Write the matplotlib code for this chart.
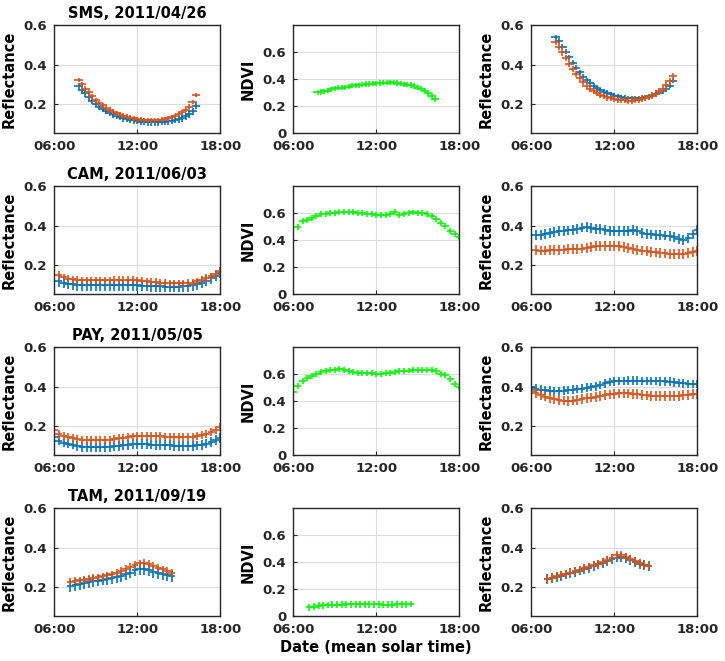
#!/usr/bin/env python3

import numpy as np
import matplotlib
matplotlib.use('Agg')
import matplotlib.pyplot as plt

# colours (matlab defaults)
BLUE = '#0072BD'
ORANGE = '#D95319'
GREEN = '#00FF00'

# sites, titles, first sample (hours) and sampling step (hours)
sites = ['SMS', 'CAM', 'PAY', 'TAM']
titles = ['SMS, 2011/04/26', 'CAM, 2011/06/03', 'PAY, 2011/05/05', 'TAM, 2011/09/19']
t_start = [7.75, 6 + 1 / 3, 6.0, 7 + 1 / 6]
t_step = [0.25, 1 / 3, 1 / 3, 1 / 3]
t_half = [0.3, 0.25, 0.25, 0.25]   # half width of integration window

# ---- SMS (15 min) ----
sms_b1 = [0.290, 0.272, 0.255, 0.235, 0.215, 0.200, 0.186, 0.175, 0.164, 0.155,
          0.147, 0.140, 0.134, 0.128, 0.124, 0.120, 0.116, 0.113, 0.110, 0.108,
          0.107, 0.106, 0.106, 0.107, 0.108, 0.110, 0.112, 0.115, 0.118, 0.122,
          0.128, 0.136, 0.146, 0.162, 0.190]
sms_o1 = [0.322, 0.300, 0.278, 0.258, 0.238, 0.220, 0.205, 0.192, 0.180, 0.170,
          0.160, 0.152, 0.145, 0.140, 0.135, 0.130, 0.126, 0.122, 0.119, 0.117,
          0.116, 0.116, 0.117, 0.118, 0.120, 0.123, 0.127, 0.132, 0.138, 0.146,
          0.156, 0.168, 0.185, 0.210, 0.245]
sms_ndvi = [0.304, 0.306, 0.310, 0.316, 0.326, 0.333, 0.338, 0.338, 0.340, 0.346,
            0.353, 0.356, 0.356, 0.360, 0.365, 0.365, 0.368, 0.370, 0.373, 0.375,
            0.375, 0.378, 0.375, 0.373, 0.368, 0.363, 0.360, 0.358, 0.350, 0.338,
            0.330, 0.316, 0.296, 0.276, 0.252]
sms_b3 = [0.540, 0.520, 0.492, 0.465, 0.438, 0.410, 0.385, 0.360, 0.338, 0.320,
          0.304, 0.291, 0.280, 0.270, 0.262, 0.255, 0.248, 0.242, 0.238, 0.234,
          0.231, 0.229, 0.228, 0.228, 0.229, 0.231, 0.234, 0.238, 0.243, 0.250,
          0.257, 0.265, 0.277, 0.292, 0.318]
sms_o3 = [0.515, 0.490, 0.462, 0.433, 0.405, 0.378, 0.352, 0.330, 0.310, 0.293,
          0.278, 0.266, 0.256, 0.247, 0.240, 0.233, 0.228, 0.224, 0.221, 0.219,
          0.218, 0.217, 0.217, 0.218, 0.220, 0.223, 0.228, 0.234, 0.242, 0.252,
          0.263, 0.277, 0.295, 0.318, 0.340]

# ---- CAM (20 min, 06:20 - 18:00) ----
cam_b1 = [0.116, 0.109, 0.104, 0.100, 0.097, 0.095, 0.095, 0.095, 0.095,
          0.095, 0.095, 0.096, 0.096, 0.096, 0.096, 0.096, 0.096, 0.095,
          0.094, 0.093, 0.092, 0.091, 0.090, 0.089, 0.089, 0.089, 0.089,
          0.090, 0.092, 0.096, 0.102, 0.110, 0.120, 0.132, 0.145, 0.160]
cam_o1 = [0.150, 0.136, 0.130, 0.126, 0.123, 0.122, 0.121, 0.121, 0.121,
          0.121, 0.122, 0.122, 0.123, 0.124, 0.124, 0.124, 0.123, 0.121,
          0.119, 0.117, 0.115, 0.113, 0.110, 0.108, 0.107, 0.107, 0.107,
          0.107, 0.108, 0.110, 0.116, 0.124, 0.133, 0.143, 0.152, 0.167]
cam_ndvi = [0.500, 0.540, 0.550, 0.567, 0.583, 0.592, 0.596, 0.600, 0.603,
            0.607, 0.613, 0.612, 0.608, 0.603, 0.600, 0.597, 0.593, 0.590,
            0.585, 0.588, 0.598, 0.608, 0.586, 0.595, 0.603, 0.606, 0.605,
            0.602, 0.593, 0.580, 0.557, 0.530, 0.505, 0.472, 0.445, 0.425]
cam_b3 = [0.350, 0.354, 0.357, 0.361, 0.368, 0.372, 0.373, 0.375, 0.377,
          0.382, 0.390, 0.393, 0.388, 0.383, 0.382, 0.378, 0.374, 0.372,
          0.372, 0.372, 0.373, 0.378, 0.374, 0.363, 0.359, 0.355, 0.353,
          0.351, 0.349, 0.347, 0.340, 0.331, 0.327, 0.335, 0.355, 0.378]
cam_o3 = [0.275, 0.273, 0.273, 0.274, 0.276, 0.277, 0.278, 0.279, 0.280,
          0.281, 0.283, 0.285, 0.290, 0.295, 0.297, 0.297, 0.297, 0.297,
          0.294, 0.289, 0.285, 0.281, 0.277, 0.273, 0.270, 0.266, 0.263,
          0.260, 0.258, 0.257, 0.256, 0.256, 0.257, 0.259, 0.265, 0.272]

# ---- PAY (20 min, 06:00 - 18:00) ----
pay_b1 = [0.143, 0.125, 0.115, 0.110, 0.105, 0.098, 0.093, 0.092, 0.091, 0.090,
          0.090, 0.091, 0.093, 0.096, 0.099, 0.102, 0.104, 0.106, 0.107, 0.107,
          0.106, 0.105, 0.104, 0.103, 0.102, 0.101, 0.099, 0.098, 0.098, 0.098,
          0.098, 0.100, 0.104, 0.110, 0.118, 0.127, 0.137]
pay_o1 = [0.180, 0.160, 0.148, 0.143, 0.138, 0.133, 0.130, 0.128, 0.127, 0.127,
          0.127, 0.128, 0.130, 0.133, 0.137, 0.140, 0.143, 0.146, 0.148, 0.149,
          0.150, 0.150, 0.149, 0.147, 0.145, 0.144, 0.143, 0.143, 0.143, 0.143,
          0.143, 0.147, 0.152, 0.157, 0.167, 0.180, 0.192]
pay_ndvi = [0.468, 0.515, 0.548, 0.571, 0.587, 0.602, 0.615, 0.623, 0.629, 0.632,
            0.636, 0.634, 0.627, 0.618, 0.610, 0.607, 0.611, 0.607, 0.600, 0.605,
            0.609, 0.612, 0.617, 0.621, 0.624, 0.628, 0.631, 0.632, 0.632, 0.632,
            0.630, 0.624, 0.605, 0.595, 0.565, 0.530, 0.505]
pay_b3 = [0.400, 0.390, 0.385, 0.381, 0.380, 0.378, 0.378, 0.380, 0.383, 0.385,
          0.388, 0.390, 0.394, 0.398, 0.402, 0.408, 0.416, 0.423, 0.427, 0.429,
          0.429, 0.430, 0.430, 0.430, 0.429, 0.429, 0.428, 0.428, 0.427, 0.426,
          0.425, 0.422, 0.419, 0.416, 0.414, 0.414, 0.414]
pay_o3 = [0.378, 0.366, 0.357, 0.349, 0.343, 0.337, 0.332, 0.329, 0.328, 0.329,
          0.332, 0.336, 0.340, 0.344, 0.348, 0.352, 0.356, 0.360, 0.363, 0.365,
          0.365, 0.365, 0.364, 0.361, 0.358, 0.355, 0.353, 0.351, 0.351, 0.351,
          0.351, 0.352, 0.354, 0.357, 0.359, 0.361, 0.363]

# ---- TAM (20 min, 07:10 - 14:30) ----
tam_b1 = [0.204, 0.209, 0.215, 0.220, 0.224, 0.228, 0.232, 0.237, 0.241, 0.246,
          0.252, 0.257, 0.264, 0.273, 0.284, 0.291, 0.290, 0.284, 0.276, 0.268,
          0.263, 0.258, 0.255]
tam_o1 = [0.226, 0.230, 0.233, 0.237, 0.241, 0.245, 0.249, 0.253, 0.258, 0.264,
          0.273, 0.281, 0.291, 0.302, 0.313, 0.320, 0.322, 0.317, 0.307, 0.297,
          0.289, 0.281, 0.272]
tam_ndvi = [0.066, 0.070, 0.078, 0.082, 0.084, 0.085, 0.087, 0.087, 0.088, 0.089,
            0.090, 0.090, 0.090, 0.090, 0.089, 0.088, 0.087, 0.087, 0.087, 0.088,
            0.089, 0.090, 0.091]
tam_b3 = [0.239, 0.244, 0.249, 0.255, 0.263, 0.270, 0.276, 0.283, 0.290, 0.297,
          0.306, 0.314, 0.322, 0.330, 0.341, 0.349, 0.352, 0.345, 0.336, 0.327,
          0.318, 0.310, 0.305]
tam_o3 = [0.242, 0.247, 0.254, 0.260, 0.267, 0.273, 0.280, 0.287, 0.294, 0.301,
          0.310, 0.318, 0.327, 0.335, 0.349, 0.360, 0.363, 0.353, 0.340, 0.330,
          0.322, 0.313, 0.305]

# uncertainty (half-width) per series: b1, o1, ndvi, b3, o3
unc = {
  'SMS': [0.018, 0.012, 0.020, 0.013, 0.016],
  'CAM': [0.028, 0.018, 0.022, 0.025, 0.025],
  'PAY': [0.025, 0.020, 0.022, 0.022, 0.025],
  'TAM': [0.030, 0.018, 0.025, 0.025, 0.020],
}
series = {
  'SMS': [sms_b1, sms_o1, sms_ndvi, sms_b3, sms_o3],
  'CAM': [cam_b1, cam_o1, cam_ndvi, cam_b3, cam_o3],
  'PAY': [pay_b1, pay_o1, pay_ndvi, pay_b3, pay_o3],
  'TAM': [tam_b1, tam_o1, tam_ndvi, tam_b3, tam_o3],
}

plt.rcParams['font.family'] = 'DejaVu Sans'
plt.rcParams['font.weight'] = 'bold'
plt.rcParams['axes.labelweight'] = 'bold'
plt.rcParams['axes.titleweight'] = 'bold'

W, H = 725, 661
fig = plt.figure(figsize=(W / 100, H / 100), dpi=100)

lefts = [54.3, 293.3, 531.3]
bottoms = [133.3, 294.3, 455.3, 616.3]
aw, ah = 166, 108


def style(ax, ndvi=False):
  ax.set_xlim(6, 18)
  ax.set_xticks([6, 12, 18])
  ax.set_xticklabels(['06:00', '12:00', '18:00'])
  if ndvi:
    ax.set_ylim(0, 0.8)
    ax.set_yticks([0, 0.2, 0.4, 0.6])
    ax.set_yticklabels(['0', '0.2', '0.4', '0.6'])
    ax.set_ylabel('NDVI', fontsize=10.5, labelpad=5)
  else:
    ax.set_ylim(0.05, 0.6)
    ax.set_yticks([0.2, 0.4, 0.6])
    ax.set_yticklabels(['0.2', '0.4', '0.6'])
    ax.set_ylabel('Reflectance', fontsize=10.5, labelpad=5)
  ax.grid(True, color='#dcdcdc', linewidth=0.8)
  ax.set_axisbelow(True)
  ax.tick_params(direction='in', length=3, width=0.8, labelsize=9.5,
                 colors='#262626', pad=5)
  for s in ax.spines.values():
    s.set_linewidth(1.0)
    s.set_color('#262626')


def bars(ax, t, y, err, xerr, color):
  ax.errorbar(t, y, xerr=xerr, yerr=err, fmt='none', ecolor=color,
              elinewidth=1.2, capsize=0)


for r, site in enumerate(sites):
  b1, o1, nd, b3, o3 = series[site]
  t = t_start[r] + t_step[r] * np.arange(len(b1))
  e = unc[site]
  xe = t_half[r]
  axs = []
  for c in range(3):
    ax = fig.add_axes([lefts[c] / W, 1 - bottoms[r] / H, aw / W, ah / H])
    axs.append(ax)

  bars(axs[0], t, b1, e[0], xe, BLUE)
  bars(axs[0], t, o1, e[1], xe, ORANGE)
  style(axs[0])
  axs[0].set_title(titles[r], fontsize=10.5, pad=5)

  bars(axs[1], t, nd, e[2], xe, GREEN)
  style(axs[1], ndvi=True)

  bars(axs[2], t, b3, e[3], xe, BLUE)
  bars(axs[2], t, o3, e[4], xe, ORANGE)
  style(axs[2])

  if r == 3:
    axs[1].set_xlabel('Date (mean solar time)', fontsize=10.5, labelpad=3)

fig.savefig('out.png', dpi=100)
plt.close(fig)
